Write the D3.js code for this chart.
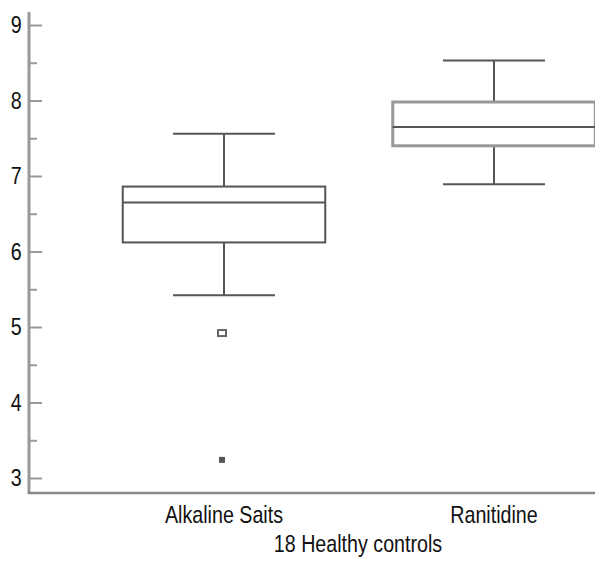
<!DOCTYPE html>
<html>
<head>
<meta charset="utf-8">
<script src="https://cdn.jsdelivr.net/npm/d3@7"></script>
<style>
  html, body { margin: 0; padding: 0; background: #fff; }
  svg { display: block; }
  text { font-family: "Liberation Sans", Arial, sans-serif; fill: #111; }
</style>
</head>
<body>
<svg id="chart" width="595" height="564"></svg>
<script>
// ---- data ----
const categories = ["Alkaline Saits", "Ranitidine"];
const whiskerLow  = [5.42, 6.89];
const q1          = [6.12, 7.40];
const median      = [6.65, 7.65];
const q3          = [6.86, 7.98];
const whiskerHigh = [7.56, 8.53];
// outliers: [category index, value, kind]
const outlierCat   = [0, 0];
const outlierValue = [4.92, 3.24];
const outlierKind  = ["open", "filled"];
const majorTicks = [3, 4, 5, 6, 7, 8, 9];
const minorTicks = [3.5, 4.5, 5.5, 6.5, 7.5, 8.5];
const xTitle = "18 Healthy controls";

// ---- layout ----
const W = 595, H = 564;
const axisX = 29, axisBottom = 493, axisTop = 12;
const svg = d3.select("#chart");

const y = d3.scaleLinear().domain([3, 9]).range([478, 25]);
const x = d3.scaleBand().domain(categories).range([89, 629]).paddingInner(0.25).paddingOuter(0.125);

const fontSize = 24;
const narrow = "scale(0.82,1)";

// y axis: major ticks with labels
const yAxis = d3.axisLeft(y).tickValues(majorTicks).tickSize(-13).tickPadding(9).tickFormat(d3.format("d"));
const gy = svg.append("g").attr("transform", `translate(${axisX},0)`).call(yAxis);
gy.select(".domain").remove();
gy.selectAll(".tick line").attr("stroke", "#999").attr("stroke-width", 2);
gy.selectAll(".tick text").attr("font-size", fontSize).attr("fill", "#111").attr("transform", narrow)
  .style("font-family", '"Liberation Sans", Arial, sans-serif');

// minor ticks
const yMinor = d3.axisLeft(y).tickValues(minorTicks).tickSize(-8).tickFormat("");
const gym = svg.append("g").attr("transform", `translate(${axisX},0)`).call(yMinor);
gym.select(".domain").remove();
gym.selectAll(".tick line").attr("stroke", "#999").attr("stroke-width", 2);

// axis lines
svg.append("line").attr("x1", axisX).attr("x2", axisX).attr("y1", axisTop).attr("y2", axisBottom + 1)
  .attr("stroke", "#999").attr("stroke-width", 3);
svg.append("line").attr("x1", axisX - 1).attr("x2", W).attr("y1", axisBottom).attr("y2", axisBottom)
  .attr("stroke", "#888").attr("stroke-width", 2.5);

// x axis category labels
const xAxis = d3.axisBottom(x).tickSize(0).tickPadding(13);
const gx = svg.append("g").attr("transform", `translate(0,${axisBottom})`).call(xAxis);
gx.select(".domain").remove();
gx.selectAll(".tick text").attr("font-size", fontSize).attr("fill", "#111").attr("transform", narrow)
  .style("font-family", '"Liberation Sans", Arial, sans-serif');

// x title
svg.append("g").attr("transform", "translate(358,552)")
  .append("text").attr("text-anchor", "middle").attr("transform", narrow)
  .attr("font-size", fontSize).text(xTitle);

// ---- boxes ----
const boxColor = ["#555", "#999"];
const boxWidth = [2, 3];
const capHalf = 51;
categories.forEach((c, i) => {
  const cx = x(c) + x.bandwidth() / 2;
  const g = svg.append("g");
  // whiskers
  g.append("line").attr("x1", cx).attr("x2", cx).attr("y1", y(whiskerHigh[i])).attr("y2", y(q3[i]))
    .attr("stroke", "#555").attr("stroke-width", 2);
  g.append("line").attr("x1", cx).attr("x2", cx).attr("y1", y(q1[i])).attr("y2", y(whiskerLow[i]))
    .attr("stroke", "#555").attr("stroke-width", 2);
  g.append("line").attr("x1", cx - capHalf).attr("x2", cx + capHalf).attr("y1", y(whiskerHigh[i])).attr("y2", y(whiskerHigh[i]))
    .attr("stroke", "#555").attr("stroke-width", 2);
  g.append("line").attr("x1", cx - capHalf).attr("x2", cx + capHalf).attr("y1", y(whiskerLow[i])).attr("y2", y(whiskerLow[i]))
    .attr("stroke", "#555").attr("stroke-width", 2);
  // box
  g.append("rect").attr("x", x(c)).attr("width", x.bandwidth())
    .attr("y", y(q3[i])).attr("height", y(q1[i]) - y(q3[i]))
    .attr("fill", "none").attr("stroke", boxColor[i]).attr("stroke-width", boxWidth[i]);
  // median
  g.append("line").attr("x1", x(c)).attr("x2", x(c) + x.bandwidth()).attr("y1", y(median[i])).attr("y2", y(median[i]))
    .attr("stroke", "#555").attr("stroke-width", 2);
});

// outliers
outlierValue.forEach((v, j) => {
  const c = categories[outlierCat[j]];
  const cx = x(c) + x.bandwidth() / 2 - 2;
  if (outlierKind[j] === "open") {
    svg.append("rect").attr("x", cx - 4).attr("y", y(v) - 3).attr("width", 8).attr("height", 6)
      .attr("fill", "none").attr("stroke", "#666").attr("stroke-width", 2);
  } else {
    svg.append("rect").attr("x", cx - 3).attr("y", y(v) - 3).attr("width", 6).attr("height", 6)
      .attr("fill", "#555");
  }
});
</script>
</body>
</html>
